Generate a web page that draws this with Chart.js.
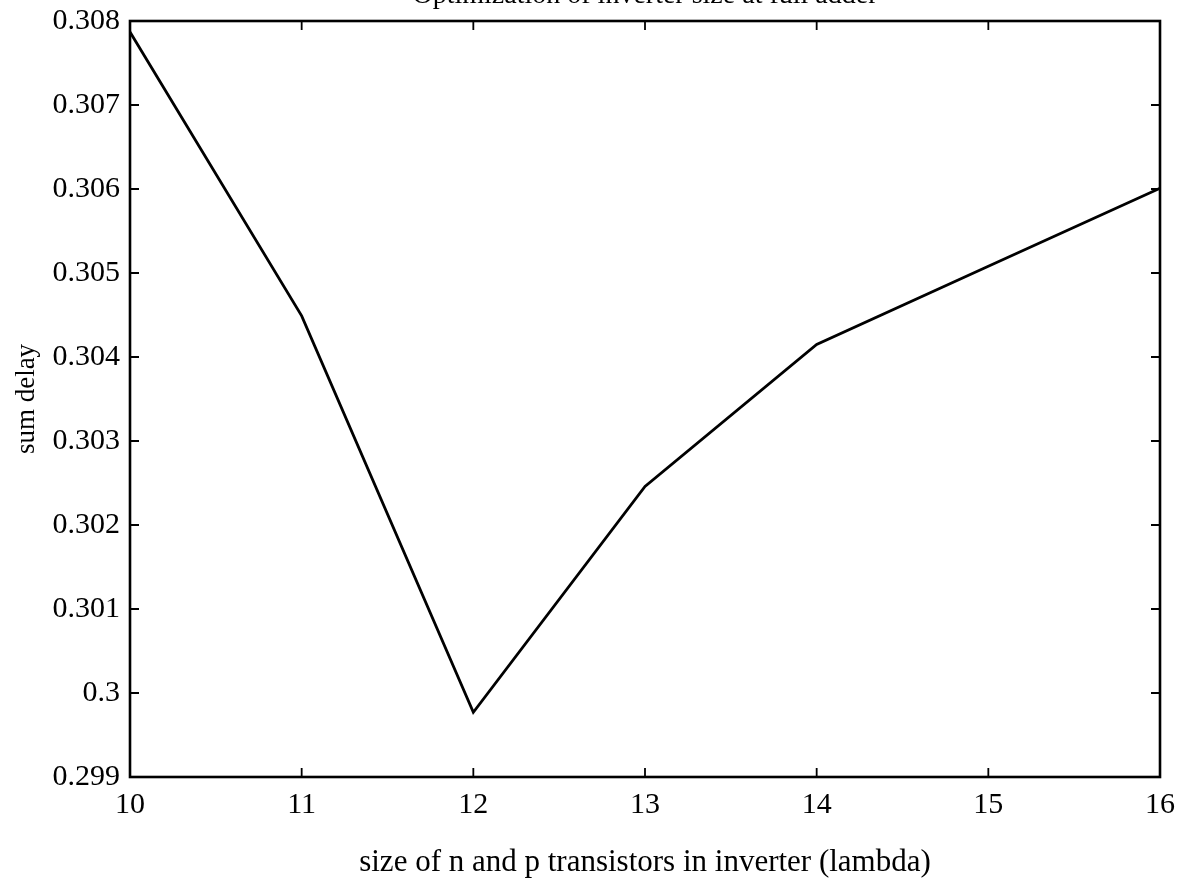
<!DOCTYPE html>
<html>
<head>
<meta charset="utf-8">
<script src="https://cdn.jsdelivr.net/npm/chart.js@4.4.1/dist/chart.umd.min.js"></script>
<style>
    html, body { margin: 0; padding: 0; background: #fff; }
    #wrap { position: relative; width: 1181px; height: 891px; }
    #delayChart { display: block; width: 1181px; height: 891px; }
</style>
</head>
<body>
<div id="wrap"><canvas id="delayChart" width="1181" height="891"></canvas></div>
<script>
// Inverter sizes (lambda) and measured sum delay
const sizes = [10, 11, 12, 13, 14, 15, 16];
const sumDelay = [0.30787, 0.30449, 0.29977, 0.30246, 0.30415, 0.30508, 0.30601];

// Tick labels on both axes
const xTickValues = [10, 11, 12, 13, 14, 15, 16];
const yTickValues = [0.299, 0.3, 0.301, 0.302, 0.303, 0.304, 0.305, 0.306, 0.307, 0.308];

const serif = 'Liberation Serif';
const titleText = 'Optimization of inverter size at full adder';

// Frame around the plot, inward tick marks on all four sides, and the title
const framePlugin = {
    id: 'frame',
    afterDraw(chart) {
        const ctx = chart.ctx;
        const a = chart.chartArea;
        const xs = chart.scales.x;
        const ys = chart.scales.y;
        const tick = 9;
        ctx.save();
        ctx.strokeStyle = '#000';
        ctx.lineWidth = 1.8;
        ctx.beginPath();
        xs.ticks.forEach(t => {
            const px = xs.getPixelForValue(t.value);
            ctx.moveTo(px, a.bottom);
            ctx.lineTo(px, a.bottom - tick);
            ctx.moveTo(px, a.top);
            ctx.lineTo(px, a.top + tick);
        });
        ys.ticks.forEach(t => {
            const py = ys.getPixelForValue(t.value);
            ctx.moveTo(a.left, py);
            ctx.lineTo(a.left + tick, py);
            ctx.moveTo(a.right, py);
            ctx.lineTo(a.right - tick, py);
        });
        ctx.stroke();

        ctx.lineWidth = 2.6;
        ctx.strokeRect(a.left, a.top, a.right - a.left, a.bottom - a.top);

        // title sits mostly above the top edge of the page
        ctx.fillStyle = '#000';
        ctx.font = '28px "' + serif + '"';
        ctx.textAlign = 'center';
        ctx.textBaseline = 'alphabetic';
        ctx.fillText(titleText, (a.left + a.right) / 2, a.top - 18);
        ctx.restore();
    }
};

const chart = new Chart(document.getElementById('delayChart'), {
    type: 'line',
    data: {
        datasets: [{
            data: sizes.map((s, i) => ({ x: s, y: sumDelay[i] })),
            borderColor: '#000',
            borderWidth: 2.8,
            pointRadius: 0,
            tension: 0,
            fill: false
        }]
    },
    options: {
        responsive: false,
        maintainAspectRatio: false,
        animation: false,
        layout: {
            padding: { top: 21, right: 21, bottom: 0, left: 0 }
        },
        plugins: {
            legend: { display: false },
            tooltip: { enabled: false }
        },
        scales: {
            x: {
                type: 'linear',
                min: 10,
                max: 16,
                grid: { display: false, drawTicks: false },
                border: { display: false },
                afterBuildTicks: scale => {
                    scale.ticks = xTickValues.map(v => ({ value: v }));
                },
                afterFit: scale => {
                    scale.height = 114;
                    scale.paddingLeft = 0;
                    scale.paddingRight = 0;
                },
                ticks: {
                    color: '#000',
                    padding: 10,
                    maxRotation: 0,
                    font: { family: serif, size: 30 },
                    callback: v => String(v)
                },
                title: {
                    display: true,
                    text: 'size of n and p transistors in inverter (lambda)',
                    color: '#000',
                    font: { family: serif, size: 31 },
                    padding: { top: 0, bottom: 10 }
                }
            },
            y: {
                min: 0.299,
                max: 0.308,
                grid: { display: false, drawTicks: false },
                border: { display: false },
                afterBuildTicks: scale => {
                    scale.ticks = yTickValues.map(v => ({ value: v }));
                },
                afterFit: scale => {
                    scale.width = 130;
                    scale.paddingTop = 0;
                    scale.paddingBottom = 0;
                },
                ticks: {
                    color: '#000',
                    padding: 10,
                    font: { family: serif, size: 30 },
                    callback: v => String(Number(v.toFixed(3)))
                },
                title: {
                    display: true,
                    text: 'sum delay',
                    color: '#000',
                    font: { family: serif, size: 27 },
                    padding: { top: 11, bottom: 0 }
                }
            }
        }
    },
    plugins: [framePlugin]
});
</script>
</body>
</html>
